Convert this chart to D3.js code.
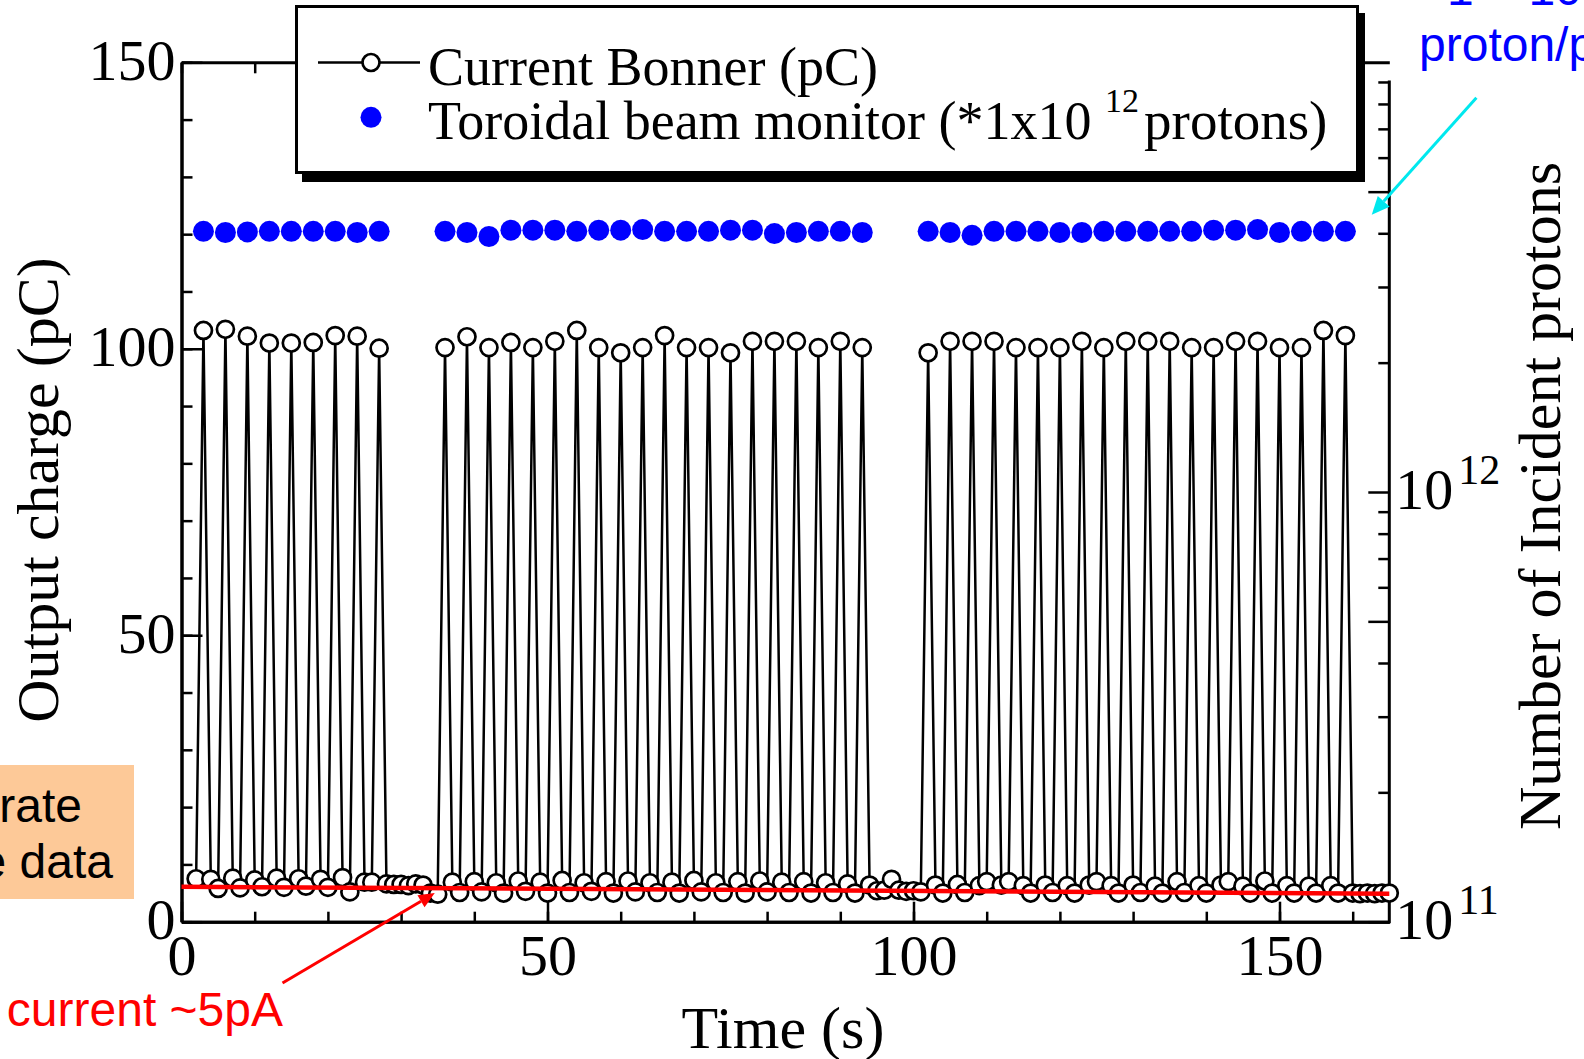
<!DOCTYPE html>
<html>
<head>
<meta charset="utf-8">
<script src="https://cdn.jsdelivr.net/npm/d3@7"></script>
<style>
  html, body { margin: 0; padding: 0; background: #fff; overflow: hidden; }
  svg { display: block; }
</style>
</head>
<body>
<svg id="chart" width="1584" height="1059"></svg>
<script>
// Bonner sphere output charge, one reading per second (s, pC)
const bonnerTime = [
  2, 3, 4, 5, 6, 7, 8, 9, 10, 11, 12, 13, 14, 15, 16, 17, 18, 19, 20, 21, 22, 23, 24, 25, 26, 27,
  28, 29, 30, 31, 32, 33, 34, 35,
  36, 37, 38, 39, 40, 41, 42, 43, 44, 45, 46, 47, 48, 49, 50, 51, 52, 53, 54, 55, 56, 57, 58, 59,
  60, 61, 62, 63, 64, 65, 66, 67, 68, 69, 70, 71, 72, 73, 74, 75, 76, 77, 78, 79, 80, 81, 82, 83,
  84, 85, 86, 87, 88, 89, 90, 91, 92, 93,
  94, 95, 96, 97, 98, 99, 100, 101,
  102, 103, 104, 105, 106, 107, 108, 109, 110, 111, 112, 113, 114, 115, 116, 117, 118, 119, 120,
  121, 122, 123, 124, 125, 126, 127, 128, 129, 130, 131, 132, 133, 134, 135, 136, 137, 138, 139,
  140, 141, 142, 143, 144, 145, 146, 147, 148, 149, 150, 151, 152, 153, 154, 155, 156, 157, 158, 159,
  160, 161, 162, 163, 164, 165
];
const bonnerCharge = [
  7.5, 103.2, 7.4, 5.8, 103.4, 7.6, 5.9, 102.2, 7.3, 6.1, 101.0, 7.6, 6.0, 101.0, 7.5, 6.2, 101.1, 7.4, 6.0, 102.3, 7.7, 5.2, 102.2, 6.9, 6.9, 100.1,
  6.6, 6.5, 6.5, 6.3, 6.6, 6.4, 5.0, 4.8,
  100.2, 6.9, 5.1, 102.1, 7.0, 5.2, 100.2, 6.8, 5.0, 101.1, 7.1, 5.3, 100.2, 6.9, 5.0, 101.3, 7.2, 5.1, 103.2, 6.8, 5.3, 100.2, 7.0, 5.0,
  99.3, 7.1, 5.2, 100.2, 6.8, 5.1, 102.3, 6.9, 5.0, 100.2, 7.2, 5.2, 100.2, 6.8, 5.1, 99.3, 7.0, 5.0, 101.3, 7.1, 5.2, 101.3, 6.9, 5.1,
  101.3, 7.0, 5.0, 100.2, 6.8, 5.1, 101.3, 6.6, 5.0, 100.2,
  6.4, 5.4, 5.5, 7.4, 5.5, 5.3, 5.4, 5.2,
  99.3, 6.4, 5.0, 101.3, 6.5, 5.1, 101.3, 6.3, 7.0, 101.3, 6.4, 7.0, 100.2, 6.3, 5.0, 100.2, 6.4, 5.1, 100.2,
  6.3, 5.0, 101.3, 6.4, 7.0, 100.2, 6.3, 5.0, 101.3, 6.4, 5.1, 101.3, 6.2, 5.0, 101.3, 7.0, 5.1, 100.2, 6.3,
  5.0, 100.2, 6.4, 7.0, 101.3, 6.2, 5.0, 101.3, 7.1, 5.0, 100.2, 6.3, 5.0, 100.2, 6.2, 5.0, 103.2, 6.3, 5.0, 102.3,
  5.0, 4.9, 5.0, 4.9, 5.0, 5.0
];

// Toroidal beam monitor, one reading per pulse (units of 1x10^12 protons)
const toroidTime = [
  3, 6, 9, 12, 15, 18, 21, 24, 27,
  36, 39, 42, 45, 48, 51, 54, 57, 60, 63, 66, 69, 72, 75, 78, 81, 84, 87, 90, 93,
  102, 105, 108, 111, 114, 117, 120, 123, 126, 129, 132, 135, 138, 141, 144, 147, 150, 153, 156, 159
];
const toroidValue = [
  120.5, 120.3, 120.4, 120.5, 120.5, 120.5, 120.5, 120.3, 120.5,
  120.5, 120.3, 119.6, 120.7, 120.7, 120.7, 120.5, 120.7, 120.7, 120.8, 120.5, 120.5, 120.5, 120.7, 120.7, 120.1, 120.3, 120.5, 120.5, 120.3,
  120.5, 120.3, 119.8, 120.5, 120.5, 120.5, 120.3, 120.3, 120.5, 120.5, 120.5, 120.5, 120.5, 120.7, 120.7, 120.8, 120.3, 120.5, 120.5, 120.5
];

// Straight-line fit of the dark current between pulses
const fitTime = [0, 165];
const fitCharge = [6.1, 4.9];

// Axis ticks
const xMinorTicks = [0, 10, 20, 30, 40, 50, 60, 70, 80, 90, 100, 110, 120, 130, 140, 150, 160];
const xMajorTicks = [0, 50, 100, 150];
const yMinorTicks = [0, 10, 20, 30, 40, 50, 60, 70, 80, 90, 100, 110, 120, 130, 140, 150];
const yMajorTicks = [0, 50, 100, 150];
const logMinorTicks = [2e11, 3e11, 4e11, 6e11, 7e11, 8e11, 9e11, 2e12, 3e12, 4e12, 6e12, 7e12, 8e12, 9e12];
const logMajorTicks = [1e11, 5e11, 1e12, 5e12];
const logLabelTicks = [1e11, 1e12];
const logLabelExponent = ["11", "12"];

const serif = "'Liberation Serif', 'Times New Roman', Times, serif";
const sans = "'Liberation Sans', Arial, Helvetica, sans-serif";

const svg = d3.select("#chart");

const x = d3.scaleLinear().domain([0, 165]).range([181.5, 1389.3]);
const y = d3.scaleLinear().domain([0, 150]).range([921.7, 62.3]);
const yLog = d3.scaleLog().domain([1e11, 1e13]).range([921.7, 62.3]);

// ---- side notes (partly outside the window) ----
svg.append("rect")
  .attr("x", -10).attr("y", 765).attr("width", 144).attr("height", 134)
  .attr("fill", "#fdc998");
svg.append("text").attr("x", 82).attr("y", 822)
  .attr("text-anchor", "end").attr("font-family", sans).attr("font-size", 48)
  .attr("fill", "#000").text("rate");
svg.append("text").attr("x", 113).attr("y", 878)
  .attr("text-anchor", "end").attr("font-family", sans).attr("font-size", 48)
  .attr("fill", "#000").text("e data");

// ---- axes ----
function styleAxis(g, domainWidth) {
  g.select(".domain").attr("stroke", "#000").attr("stroke-width", domainWidth);
  g.selectAll(".tick line").attr("stroke", "#000").attr("stroke-width", 2.5);
}

// bottom
const gBMinor = svg.append("g").attr("transform", `translate(0,${y(0)})`)
  .call(d3.axisBottom(x).tickValues(xMinorTicks).tickSizeInner(-10).tickSizeOuter(0).tickFormat(""));
styleAxis(gBMinor, 3);
const gBMajor = svg.append("g").attr("transform", `translate(0,${y(0)})`)
  .call(d3.axisBottom(x).tickValues(xMajorTicks).tickSizeInner(-20).tickSizeOuter(0).tickFormat(d3.format("d")));
styleAxis(gBMajor, 3);
gBMajor.selectAll(".tick text")
  .attr("y", 53).attr("dy", 0)
  .attr("font-family", serif).attr("font-size", 58).attr("fill", "#000");

// top
const gTop = svg.append("g").attr("transform", `translate(0,${y(150)})`)
  .call(d3.axisTop(x).tickValues(xMinorTicks).tickSizeInner(-11).tickSizeOuter(0).tickFormat(""));
styleAxis(gTop, 3);

// left
const gLMinor = svg.append("g").attr("transform", `translate(${x(0)},0)`)
  .call(d3.axisLeft(y).tickValues(yMinorTicks).tickSizeInner(-11).tickSizeOuter(0).tickFormat(""));
styleAxis(gLMinor, 3);
const gLMajor = svg.append("g").attr("transform", `translate(${x(0)},0)`)
  .call(d3.axisLeft(y).tickValues(yMajorTicks).tickSizeInner(-21).tickSizeOuter(0).tickFormat(d3.format("d")));
styleAxis(gLMajor, 3);
gLMajor.selectAll(".tick text")
  .attr("x", -6).attr("y", 17).attr("dy", 0)
  .attr("font-family", serif).attr("font-size", 58).attr("fill", "#000");

// right (log scale)
const gRMinor = svg.append("g").attr("transform", `translate(${x(165)},0)`)
  .call(d3.axisRight(yLog).tickValues(logMinorTicks).tickSizeInner(-11).tickSizeOuter(0).tickFormat(""));
styleAxis(gRMinor, 0);
gRMinor.select(".domain").remove();
const gRMajor = svg.append("g").attr("transform", `translate(${x(165)},0)`)
  .call(d3.axisRight(yLog).tickValues(logMajorTicks).tickSizeInner(-21).tickSizeOuter(0).tickFormat(""));
styleAxis(gRMajor, 0);
gRMajor.select(".domain").remove();
svg.append("line")
  .attr("x1", x(165)).attr("x2", x(165))
  .attr("y1", yLog(9e12) - 1.5).attr("y2", yLog(1e11) + 1.5)
  .attr("stroke", "#000").attr("stroke-width", 3);
logLabelTicks.forEach((v, i) => {
  const t = svg.append("text")
    .attr("x", x(165) + 6).attr("y", yLog(v) + 17)
    .attr("font-family", serif).attr("font-size", 58).attr("fill", "#000");
  t.append("tspan").text("10");
  t.append("tspan").attr("font-size", 42).attr("dx", 5).attr("dy", -25).text(logLabelExponent[i]);
});

// axis titles
svg.append("text")
  .attr("transform", `translate(58,490) rotate(-90)`)
  .attr("text-anchor", "middle").attr("font-family", serif).attr("font-size", 60)
  .attr("fill", "#000").text("Output charge (pC)");
svg.append("text")
  .attr("x", 783).attr("y", 1048)
  .attr("text-anchor", "middle").attr("font-family", serif).attr("font-size", 60)
  .attr("fill", "#000").text("Time (s)");
svg.append("text")
  .attr("transform", `translate(1560,496) rotate(-90)`)
  .attr("text-anchor", "middle").attr("font-family", serif).attr("font-size", 60)
  .attr("fill", "#000").text("Number of Incident protons");

// ---- data ----
const bonner = bonnerTime.map((t, i) => ({ t, v: bonnerCharge[i] }));
const toroid = toroidTime.map((t, i) => ({ t, v: toroidValue[i] }));

svg.append("path")
  .datum(bonner)
  .attr("fill", "none").attr("stroke", "#000").attr("stroke-width", 2.5)
  .attr("stroke-linejoin", "miter")
  .attr("d", d3.line().x(d => x(d.t)).y(d => y(d.v)));

svg.append("g").selectAll("circle")
  .data(bonner).join("circle")
  .attr("cx", d => x(d.t)).attr("cy", d => y(d.v)).attr("r", 8.5)
  .attr("fill", "#fff").attr("stroke", "#000").attr("stroke-width", 2.7);

svg.append("g").selectAll("circle")
  .data(toroid).join("circle")
  .attr("cx", d => x(d.t)).attr("cy", d => y(d.v)).attr("r", 10.5)
  .attr("fill", "#0000ff");

// dark-current fit
svg.append("line")
  .attr("x1", x(fitTime[0])).attr("y1", y(fitCharge[0]))
  .attr("x2", x(fitTime[1])).attr("y2", y(fitCharge[1]))
  .attr("stroke", "#ff0000").attr("stroke-width", 4.5);

// ---- legend ----
const legend = svg.append("g");
legend.append("rect")
  .attr("x", 302).attr("y", 13).attr("width", 1063).attr("height", 169)
  .attr("fill", "#000");
legend.append("rect")
  .attr("x", 296.5).attr("y", 6.5).attr("width", 1061).attr("height", 166)
  .attr("fill", "#fff").attr("stroke", "#000").attr("stroke-width", 3);
legend.append("line")
  .attr("x1", 318).attr("x2", 420).attr("y1", 62.5).attr("y2", 62.5)
  .attr("stroke", "#000").attr("stroke-width", 2.5);
legend.append("circle")
  .attr("cx", 371).attr("cy", 62.5).attr("r", 8.5)
  .attr("fill", "#fff").attr("stroke", "#000").attr("stroke-width", 2.7);
legend.append("text")
  .attr("x", 428).attr("y", 85)
  .attr("font-family", serif).attr("font-size", 54).attr("fill", "#000")
  .text("Current Bonner (pC)");
legend.append("circle")
  .attr("cx", 371).attr("cy", 117.3).attr("r", 10.5).attr("fill", "#0000ff");
const lt = legend.append("text")
  .attr("x", 428).attr("y", 139)
  .attr("font-family", serif).attr("font-size", 54).attr("fill", "#000");
lt.append("tspan").text("Toroidal beam monitor (*1x10 ");
lt.append("tspan").attr("font-size", 34).attr("dy", -27).text("12");
lt.append("tspan").attr("dx", 5).attr("dy", 27).attr("font-size", 55).text("protons)");

// ---- annotations ----
function arrow(x1, y1, x2, y2, color, width, headLen, headHalf) {
  const a = Math.atan2(y2 - y1, x2 - x1);
  const bx = x2 - headLen * Math.cos(a), by = y2 - headLen * Math.sin(a);
  svg.append("line")
    .attr("x1", x1).attr("y1", y1).attr("x2", bx).attr("y2", by)
    .attr("stroke", color).attr("stroke-width", width);
  const px = -Math.sin(a) * headHalf, py = Math.cos(a) * headHalf;
  svg.append("path")
    .attr("d", `M${x2},${y2}L${bx + px},${by + py}L${bx - px},${by - py}Z`)
    .attr("fill", color);
}

// dark-current note
svg.append("text").attr("x", 283).attr("y", 1026)
  .attr("text-anchor", "end").attr("font-family", sans).attr("font-size", 48)
  .attr("fill", "#ff0000").text("current ~5pA");
arrow(x(13.8), y(-10.7), x(34.6), y(5.0), "#ff0000", 3, 16, 7);

// beam-intensity note
const bt = svg.append("text").attr("x", 1447).attr("y", 5)
  .attr("font-family", sans).attr("font-size", 48).attr("fill", "#0000ff");
bt.append("tspan").text("1 × 10");
svg.append("text").attr("x", 1419).attr("y", 61)
  .attr("font-family", sans).attr("font-size", 48).attr("fill", "#0000ff")
  .text("proton/p");
arrow(x(176.9), y(143.8), x(162.6), y(123.4), "#00e8ee", 3, 18, 8);
</script>
</body>
</html>
